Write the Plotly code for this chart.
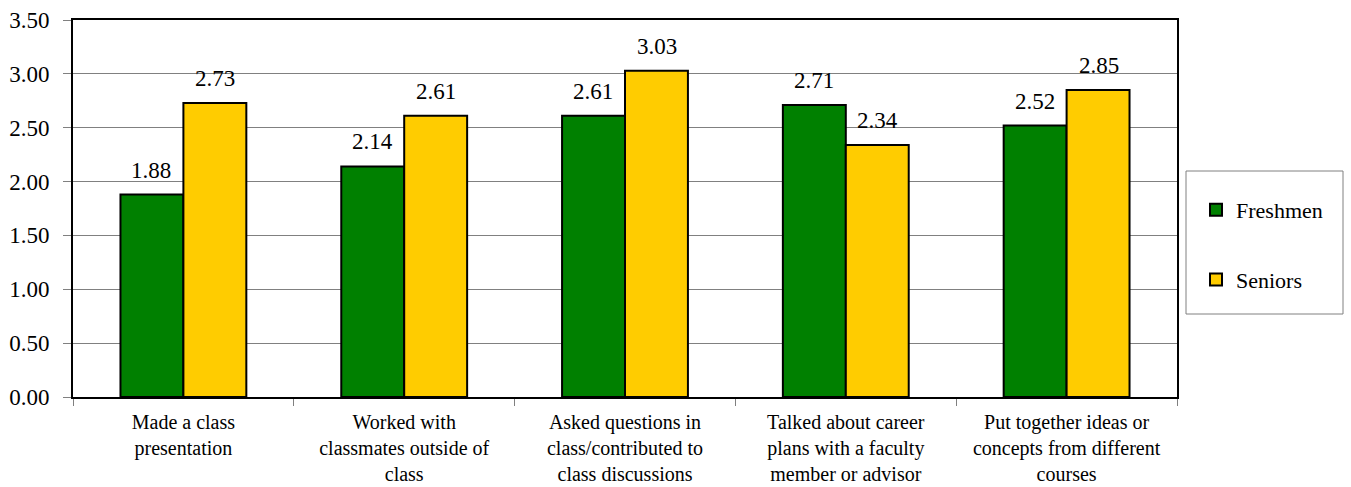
import plotly.graph_objects as go

categories = [
    "Made a class<br>presentation",
    "Worked with<br>classmates outside of<br>class",
    "Asked questions in<br>class/contributed to<br>class discussions",
    "Talked about career<br>plans with a faculty<br>member or advisor",
    "Put together ideas or<br>concepts from different<br>courses",
]
freshmen = [1.88, 2.14, 2.61, 2.71, 2.52]
seniors = [2.73, 2.61, 3.03, 2.34, 2.85]
y_ticks = [0, 0.5, 1.0, 1.5, 2.0, 2.5, 3.0, 3.5]

FONT = "Times New Roman"

fig = go.Figure()
fig.add_trace(go.Bar(name="Freshmen", x=categories, y=freshmen,
                     marker=dict(color="#008000", line=dict(color="black", width=2)),
                     legendgroup="a"))
fig.add_trace(go.Bar(name="Seniors", x=categories, y=seniors,
                     marker=dict(color="#FFCC00", line=dict(color="black", width=2)),
                     legendgroup="b"))

for series, shift in ((freshmen, -32), (seniors, 32)):
    for c, v in zip(categories, series):
        fig.add_annotation(x=c, y=v, text=f"{v:.2f}", showarrow=False,
                           xshift=shift, yshift=10, yanchor="bottom",
                           font=dict(family=FONT, size=23, color="black"))

# legend box
fig.add_shape(type="rect", xref="paper", yref="paper",
              x0=(1186 - 73) / 1104, x1=(1343 - 73) / 1104,
              y0=(397 - 314) / 377, y1=(397 - 171) / 377,
              line=dict(color="#808080", width=1), fillcolor="white", layer="below")

fig.update_layout(
    width=1351, height=487,
    margin=dict(l=73, r=174, t=20, b=90, autoexpand=False),
    paper_bgcolor="white", plot_bgcolor="white",
    barmode="group", bargap=0.43, bargroupgap=0,
    font=dict(family=FONT, size=21, color="black"),
    showlegend=True,
    legend=dict(x=(1196 - 73) / 1104, y=(397 - 189) / 377, xanchor="left", yanchor="top",
                bgcolor="rgba(0,0,0,0)", borderwidth=0, tracegroupgap=38,
                traceorder="grouped", font=dict(family=FONT, size=22),
                itemwidth=30),
)
fig.update_xaxes(showline=True, mirror=True, linecolor="black", linewidth=2,
                 ticks="outside", tickson="boundaries", ticklen=7, tickcolor="#808080",
                 tickfont=dict(family=FONT, size=20), ticklabelstandoff=6,
                 automargin=False)
fig.update_yaxes(range=[0, 3.5], tickvals=y_ticks, tickformat=".2f",
                 showline=True, mirror=True, linecolor="black", linewidth=2,
                 ticks="outside", ticklen=8, tickcolor="#808080",
                 showgrid=True, gridcolor="#808080", gridwidth=1,
                 zeroline=False, tickfont=dict(family=FONT, size=23),
                 ticklabelstandoff=9, automargin=False)

fig.write_html("out.html", config={"displayModeBar": False},
               post_script="document.body.style.margin='0';document.body.style.padding='0';")
